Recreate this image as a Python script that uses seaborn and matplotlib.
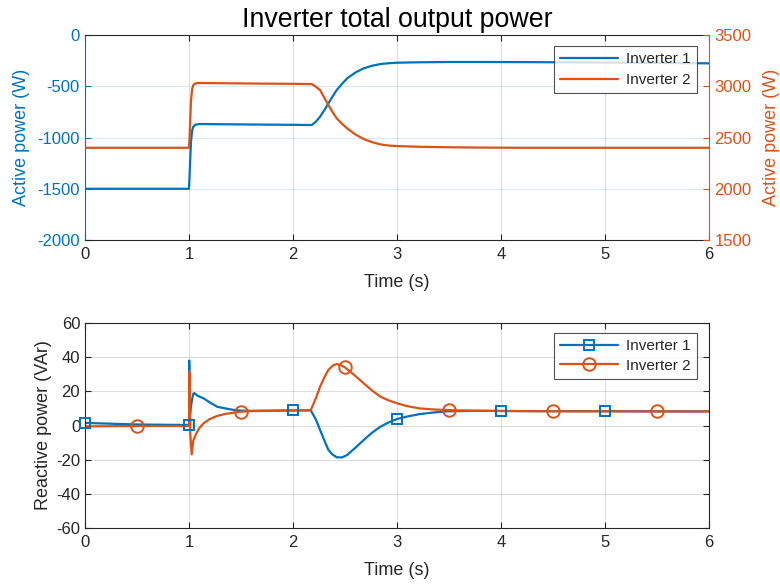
import numpy as np
import pandas as pd
import matplotlib
matplotlib.use("Agg")
import matplotlib.pyplot as plt
from matplotlib.lines import Line2D
import seaborn as sns

# ---------------- data ----------------
# Active power (top panel)
t_p = [0, 0.998, 1.0, 1.005, 1.01, 1.015, 1.02, 1.03, 1.04, 1.06, 1.1, 1.3, 1.6, 2.0,
       2.18, 2.22, 2.26, 2.3, 2.34, 2.38, 2.42, 2.47, 2.52, 2.6, 2.68, 2.76, 2.84, 2.92,
       3.0, 3.2, 3.5, 3.8, 4.2, 4.6, 5.0, 5.5, 6.0]
p_inv1 = [-1500, -1500, -1490, -1380, -1250, -1130, -1030, -935, -895, -875, -868, -870, -873, -876,
          -878, -845, -797, -735, -667, -600, -537, -478, -423, -365, -325, -300, -283, -275,
          -270, -266, -263, -263, -264, -266, -268, -272, -276]
p_inv2 = [2400, 2400, 2410, 2500, 2620, 2760, 2870, 2970, 3010, 3028, 3032, 3030, 3027, 3024,
          3022, 2995, 2963, 2890, 2817, 2750, 2687, 2635, 2590, 2530, 2485, 2455, 2433, 2422,
          2417, 2410, 2405, 2402, 2400, 2400, 2400, 2400, 2400]

# Reactive power (bottom panel)
t_q1 = [0, 0.5, 0.99, 1.0, 1.002, 1.006, 1.02, 1.04, 1.05, 1.08, 1.14, 1.2, 1.27, 1.35,
        1.43, 1.5, 1.6, 1.8, 2.0, 2.17, 2.22, 2.26, 2.3, 2.34, 2.38, 2.42, 2.47, 2.52, 2.6,
        2.68, 2.76, 2.84, 2.92, 3.0, 3.1, 3.22, 3.35, 3.48, 3.65, 3.8, 4.0, 4.5, 5.0, 5.5, 6.0]
q_inv1 = [1.5, 0.6, 0.3, 0.3, 38, 3, 12, 18.5, 19, 17.5, 15.9, 13.5, 11, 10,
          9.1, 8.7, 8.6, 8.7, 8.8, 8.9, 3.5, -2.6, -8.5, -14.3, -17, -18.6, -18.7, -17.3, -13,
          -8.5, -4.2, -0.7, 1.8, 3.8, 5.3, 6.7, 7.6, 8.3, 8.5, 8.6, 8.5, 8.4, 8.4, 8.3, 8.3]
t_q2 = [0, 0.5, 0.99, 1.0, 1.003, 1.012, 1.026, 1.04, 1.07, 1.1, 1.14, 1.2, 1.27, 1.35,
        1.43, 1.5, 1.6, 1.8, 2.0, 2.17, 2.22, 2.26, 2.3, 2.34, 2.38, 2.42, 2.46, 2.5, 2.6,
        2.68, 2.76, 2.84, 2.92, 3.0, 3.1, 3.22, 3.35, 3.5, 3.65, 3.8, 4.0, 4.5, 5.0, 5.5, 6.0]
q_inv2 = [-0.5, -0.3, -0.3, -0.3, 31.5, -5, -16.9, -9, -4.6, -1.5, 1.3, 3.8, 5.6, 6.8,
          7.5, 8.1, 8.4, 8.6, 8.8, 8.9, 16, 22.7, 28, 32.5, 35, 36, 35.3, 34, 29,
          24.7, 20.5, 16.9, 14.7, 13, 11.3, 10, 9.4, 9.0, 8.8, 8.6, 8.5, 8.3, 8.3, 8.2, 8.2]
mark_t1 = [0, 1, 2, 3, 4, 5]
mark_t2 = [0.5, 1.5, 2.5, 3.5, 4.5, 5.5]

labels = ["Inverter 1", "Inverter 2"]
title = "Inverter total output power"

# ---------------- style ----------------
sns.set_style("white")
plt.rcParams["font.family"] = ["Liberation Sans", "DejaVu Sans"]
plt.rcParams["axes.unicode_minus"] = False

BLUE = "#0072BD"
ORANGE = "#D95319"
DARK = "#262626"

fig = plt.figure(figsize=(7.8, 5.84), dpi=100)
ax1 = fig.add_axes([0.109, 0.589, 0.8, 0.351])
ax1r = ax1.twinx()
ax2 = fig.add_axes([0.109, 0.0959, 0.8, 0.351])

# ---------------- top panel ----------------
dfp = pd.DataFrame({"t": t_p, "p1": p_inv1, "p2": p_inv2})
sns.lineplot(data=dfp, x="t", y="p1", ax=ax1, color=BLUE, lw=1.6,
             sort=False, estimator=None, legend=False)
sns.lineplot(data=dfp, x="t", y="p2", ax=ax1r, color=ORANGE, lw=1.6,
             sort=False, estimator=None, legend=False)

ax1.set_xlim(0, 6)
ax1.set_ylim(-2000, 0)
ax1r.set_ylim(1500, 3500)
ax1.set_xticks(range(0, 7))
ax1.set_yticks([-2000, -1500, -1000, -500, 0])
ax1r.set_yticks([1500, 2000, 2500, 3000, 3500])

ax1.yaxis.grid(True, color=BLUE, alpha=0.15, lw=0.8)
ax1.xaxis.grid(True, color=DARK, alpha=0.15, lw=0.8)
ax1.set_axisbelow(True)

for sp in ["top", "bottom"]:
    ax1.spines[sp].set_color(DARK)
    ax1.spines[sp].set_linewidth(0.8)
ax1.spines["left"].set_color(BLUE)
ax1.spines["left"].set_linewidth(0.8)
ax1.spines["right"].set_visible(False)
for sp in ["top", "bottom", "left"]:
    ax1r.spines[sp].set_visible(False)
ax1r.spines["right"].set_color(ORANGE)
ax1r.spines["right"].set_linewidth(0.8)

ax1.tick_params(axis="x", direction="in", top=True, bottom=True, length=4.5, width=0.8,
                color=DARK, labelcolor=DARK, labelsize=12, pad=5)
ax1.tick_params(axis="y", direction="in", left=True, length=4.5, width=0.8,
                color=BLUE, labelcolor=BLUE, labelsize=12, pad=4)
ax1r.tick_params(axis="y", direction="in", right=True, length=4.5, width=0.8,
                 color=ORANGE, labelcolor=ORANGE, labelsize=12, pad=4)

ax1.set_xlabel("Time (s)", fontsize=13, color=DARK, labelpad=9)
ax1.set_ylabel("Active power (W)", fontsize=13, color=BLUE, labelpad=5)
ax1r.set_ylabel("Active power (W)", fontsize=13, color=ORANGE, labelpad=8)
ax1.set_title(title, fontsize=19.3, color="black", pad=6)

h_top = [Line2D([], [], color=BLUE, lw=1.6), Line2D([], [], color=ORANGE, lw=1.6)]
leg1 = ax1r.legend(h_top, labels, loc="upper right", bbox_to_anchor=(0.98, 0.945),
                   fontsize=11, frameon=True, fancybox=False, edgecolor=DARK,
                   handlelength=3.8, handletextpad=0.5, borderpad=0.4, labelspacing=0.45,
                   borderaxespad=0)
leg1.get_frame().set_linewidth(0.8)

# ---------------- bottom panel ----------------
dfq1 = pd.DataFrame({"t": t_q1, "q": q_inv1})
dfq2 = pd.DataFrame({"t": t_q2, "q": q_inv2})
sns.lineplot(data=dfq1, x="t", y="q", ax=ax2, color=BLUE, lw=1.6,
             sort=False, estimator=None, legend=False)
sns.lineplot(data=dfq2, x="t", y="q", ax=ax2, color=ORANGE, lw=1.6,
             sort=False, estimator=None, legend=False)
m1 = dfq1[dfq1["t"].isin(mark_t1)]
m2 = dfq2[dfq2["t"].isin(mark_t2)]
ax2.plot(m1["t"], m1["q"], ls="none", marker="s", ms=7.5, mfc="none", mec=BLUE, mew=1.4,
         clip_on=False, zorder=3)
ax2.plot(m2["t"], m2["q"], ls="none", marker="o", ms=9, mfc="none", mec=ORANGE, mew=1.4,
         clip_on=False, zorder=3)

ax2.set_xlim(0, 6)
ax2.set_ylim(-60, 60)
ax2.set_xticks(range(0, 7))
ax2.set_yticks(range(-60, 61, 20))
ax2.grid(True, color=DARK, alpha=0.15, lw=0.8)
ax2.set_axisbelow(True)
for sp in ax2.spines.values():
    sp.set_color(DARK)
    sp.set_linewidth(0.8)
    sp.set_visible(True)
ax2.tick_params(axis="both", direction="in", top=True, bottom=True, left=True, right=True,
                length=4.5, width=0.8, color=DARK, labelcolor=DARK, labelsize=12)
ax2.tick_params(axis="x", pad=5)
ax2.set_xlabel("Time (s)", fontsize=13, color=DARK, labelpad=9)
ax2.set_ylabel("Reactive power (VAr)", fontsize=13, color=DARK, labelpad=3)

h_bot = [Line2D([], [], color=BLUE, lw=1.6, marker="s", ms=7.5, mfc="none", mew=1.4),
         Line2D([], [], color=ORANGE, lw=1.6, marker="o", ms=9, mfc="none", mew=1.4)]
leg2 = ax2.legend(h_bot, labels, loc="upper right", bbox_to_anchor=(0.98, 0.951),
                  fontsize=11, frameon=True, fancybox=False, edgecolor=DARK,
                  handlelength=3.8, handletextpad=0.5, borderpad=0.4, labelspacing=0.35,
                  borderaxespad=0)
leg2.get_frame().set_linewidth(0.8)

fig.savefig("out.png", dpi=100, facecolor="white")
